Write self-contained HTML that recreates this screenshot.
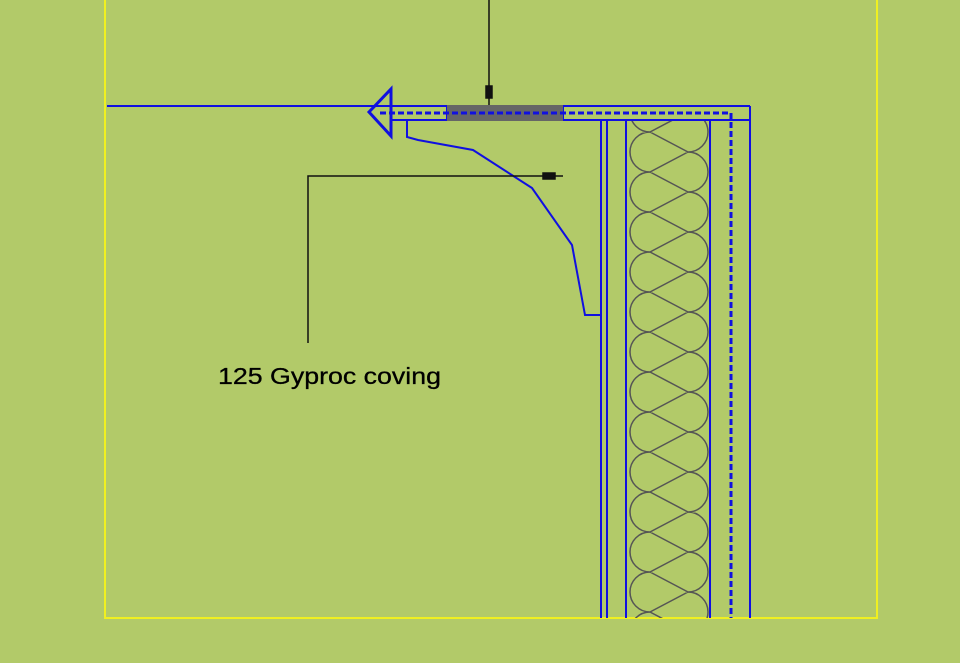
<!DOCTYPE html>
<html><head><style>
html,body{margin:0;padding:0;background:#b2ca69;}
svg{display:block}
</style></head><body>
<svg width="960" height="663" viewBox="0 0 960 663" xmlns="http://www.w3.org/2000/svg">
<rect width="960" height="663" fill="#b2ca69"/>
<defs><clipPath id="ins"><rect x="628" y="121" width="81" height="497"/></clipPath></defs>
<polyline points="105,0 105,618 877,618 877,0" fill="none" stroke="#f0f020" stroke-width="2"/>
<g fill="none" stroke="#1010e0" stroke-width="2">
<line x1="107" y1="106" x2="750" y2="106"/>
<line x1="390" y1="120" x2="447" y2="120"/>
<line x1="447" y1="106" x2="447" y2="120"/>
<line x1="563" y1="120" x2="750" y2="120"/>
<line x1="563" y1="106" x2="563" y2="120"/>
<line x1="750" y1="106" x2="750" y2="618"/>
<line x1="601" y1="120" x2="601" y2="618"/>
<line x1="607" y1="120" x2="607" y2="618"/>
<line x1="626" y1="120" x2="626" y2="618"/>
<line x1="710" y1="120" x2="710" y2="618"/>
<polygon points="369,112 391,89 391,136" stroke-width="3"/>
<polyline points="407,120 407,137 418,140 473,150 532,188 572,245 585,315 602,315"/>
</g>
<rect x="447" y="105" width="116" height="16" fill="#666"/>
<polyline points="380,113 731,113 731,618" fill="none" stroke="#1010e0" stroke-width="3" stroke-dasharray="6,3"/>
<g clip-path="url(#ins)" fill="none" stroke="#555" stroke-width="1.5">
<path d="
M650,92 A20,20 0 0 0 650,132 M650,132 L688,152 M650,92 L688,72
M650,132 A20,20 0 0 0 650,172 M650,172 L688,192 M650,132 L688,112
M650,172 A20,20 0 0 0 650,212 M650,212 L688,232 M650,172 L688,152
M650,212 A20,20 0 0 0 650,252 M650,252 L688,272 M650,212 L688,192
M650,252 A20,20 0 0 0 650,292 M650,292 L688,312 M650,252 L688,232
M650,292 A20,20 0 0 0 650,332 M650,332 L688,352 M650,292 L688,272
M650,332 A20,20 0 0 0 650,372 M650,372 L688,392 M650,332 L688,312
M650,372 A20,20 0 0 0 650,412 M650,412 L688,432 M650,372 L688,352
M650,412 A20,20 0 0 0 650,452 M650,452 L688,472 M650,412 L688,392
M650,452 A20,20 0 0 0 650,492 M650,492 L688,512 M650,452 L688,432
M650,492 A20,20 0 0 0 650,532 M650,532 L688,552 M650,492 L688,472
M650,532 A20,20 0 0 0 650,572 M650,572 L688,592 M650,532 L688,512
M650,572 A20,20 0 0 0 650,612 M650,612 L688,632 M650,572 L688,552
M650,612 A20,20 0 0 0 650,652 M650,612 L688,592
M688,112 A20,20 0 0 1 688,152
M688,152 A20,20 0 0 1 688,192
M688,192 A20,20 0 0 1 688,232
M688,232 A20,20 0 0 1 688,272
M688,272 A20,20 0 0 1 688,312
M688,312 A20,20 0 0 1 688,352
M688,352 A20,20 0 0 1 688,392
M688,392 A20,20 0 0 1 688,432
M688,432 A20,20 0 0 1 688,472
M688,472 A20,20 0 0 1 688,512
M688,512 A20,20 0 0 1 688,552
M688,552 A20,20 0 0 1 688,592
M688,592 A20,20 0 0 1 688,632
"/>
</g>
<g stroke="#111" stroke-width="1.5" fill="#111">
<line x1="489" y1="0" x2="489" y2="105"/>
<rect x="486" y="86" width="6" height="12"/>
<polyline points="308,343 308,176 563,176" fill="none"/>
<rect x="543" y="173" width="12" height="6"/>
</g>
<text x="218" y="384" font-family="Liberation Sans, sans-serif" font-size="23" fill="#000" stroke="#000" stroke-width="0.3" textLength="223" lengthAdjust="spacingAndGlyphs">125 Gyproc coving</text>
</svg>
</body></html>
